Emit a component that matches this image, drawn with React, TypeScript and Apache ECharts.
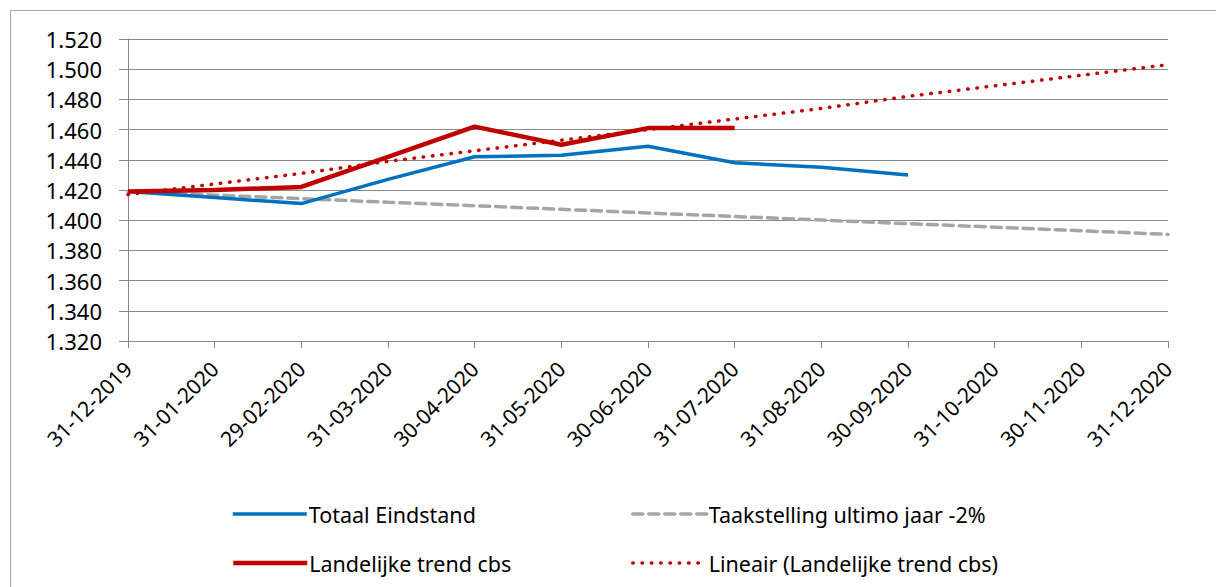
import React, { useEffect, useRef } from "react";
import * as echarts from "echarts";

const categories = [
  "31-12-2019", "31-01-2020", "29-02-2020", "31-03-2020", "30-04-2020", "31-05-2020",
  "30-06-2020", "31-07-2020", "31-08-2020", "30-09-2020", "31-10-2020", "30-11-2020", "31-12-2020",
];
const totaalEindstand = [1419, 1415, 1411, 1427, 1442, 1443, 1449, 1438, 1435, 1430, null, null, null];
const taakstelling = [1419, 1416.6, 1414.3, 1411.9, 1409.6, 1407.2, 1404.8, 1402.5, 1400.1, 1397.7, 1395.4, 1393, 1390.6];
const landelijkeTrend = [1419, 1420, 1422, 1442, 1462, 1450, 1461, 1461, null, null, null, null, null];
const lineairTrend = [1417, 1424, 1431, 1439, 1446, 1453, 1460, 1467, 1474, 1482, 1489, 1496, 1503];

const FONT = "'Noto Sans', sans-serif";

export default function App() {
  const ref = useRef<HTMLDivElement>(null);
  useEffect(() => {
    if (!ref.current) return;
    const chart = echarts.init(ref.current, undefined, { renderer: "svg" });
    const legendText = { fontFamily: FONT, fontSize: 21.5, color: "#000", padding: [0, 0, 0, -3] };
    const legendBase = {
      itemWidth: 74,
      itemHeight: 14,
      itemStyle: { opacity: 0, borderWidth: 0 },
      textStyle: legendText,
    };
    chart.setOption({
      animation: false,
      backgroundColor: "#fff",
      textStyle: { fontFamily: FONT },
      grid: { left: 128, right: 48, top: 39, bottom: 246, containLabel: false },
      graphic: [
        {
          type: "rect",
          shape: { x: 10.5, y: 10.5, width: 1230, height: 600 },
          style: { fill: "none", stroke: "#a6a6a6", lineWidth: 1 },
          silent: true,
        },
      ],
      xAxis: {
        type: "category",
        data: categories,
        boundaryGap: false,
        axisLine: { lineStyle: { color: "#898989", width: 1 } },
        axisTick: { show: true, inside: false, length: 7, lineStyle: { color: "#898989" } },
        axisLabel: {
          rotate: 45,
          margin: 24,
          fontFamily: FONT,
          fontSize: 21,
          color: "#000",
          interval: 0,
        },
        splitLine: { show: false },
      },
      yAxis: {
        type: "value",
        min: 1320,
        max: 1520,
        interval: 20,
        axisLine: { show: true, lineStyle: { color: "#898989", width: 1 } },
        axisTick: { show: true, inside: false, length: 9, lineStyle: { color: "#898989" } },
        axisLabel: {
          margin: 26,
          fontFamily: FONT,
          fontSize: 22,
          color: "#000",
          formatter: (v: number) => {
            const s = String(Math.round(v));
            return s.slice(0, 1) + "." + s.slice(1);
          },
        },
        splitLine: { show: true, lineStyle: { color: "#898989", width: 1 } },
      },
      legend: [
        { ...legendBase, lineStyle: { width: 3.5 }, data: ["Totaal Eindstand"], left: 226, top: 498 },
        { ...legendBase, lineStyle: { width: 3.5 }, data: ["Taakstelling ultimo jaar -2%"], left: 626, top: 498 },
        { ...legendBase, lineStyle: { width: 4.5 }, data: ["Landelijke trend cbs"], left: 226, top: 547 },
        { ...legendBase, lineStyle: { width: 3.5 }, data: ["Lineair (Landelijke trend cbs)"], left: 626, top: 547 },
      ],
      series: [
        {
          name: "Taakstelling ultimo jaar -2%",
          type: "line",
          data: taakstelling,
          symbol: "none",
          z: 2,
          lineStyle: { color: "#a5a5a5", width: 3.5, type: [10, 6], cap: "round" },
          itemStyle: { color: "#a5a5a5" },
        },
        {
          name: "Totaal Eindstand",
          type: "line",
          data: totaalEindstand,
          symbol: "none",
          z: 3,
          lineStyle: { color: "#0070c0", width: 3.5 },
          itemStyle: { color: "#0070c0" },
        },
        {
          name: "Landelijke trend cbs",
          type: "line",
          data: landelijkeTrend,
          symbol: "none",
          z: 4,
          lineStyle: { color: "#c00000", width: 4.5 },
          itemStyle: { color: "#c00000" },
        },
        {
          name: "Lineair (Landelijke trend cbs)",
          type: "line",
          data: lineairTrend,
          symbol: "none",
          z: 5,
          lineStyle: { color: "#c00000", width: 3.5, type: [0.5, 8.8], cap: "round" },
          itemStyle: { color: "#c00000" },
        },
      ],
    });
    return () => chart.dispose();
  }, []);
  return (
    <div
      ref={ref}
      style={{ position: "absolute", left: 0, top: 0, width: 1216, height: 587 }}
    />
  );
}
